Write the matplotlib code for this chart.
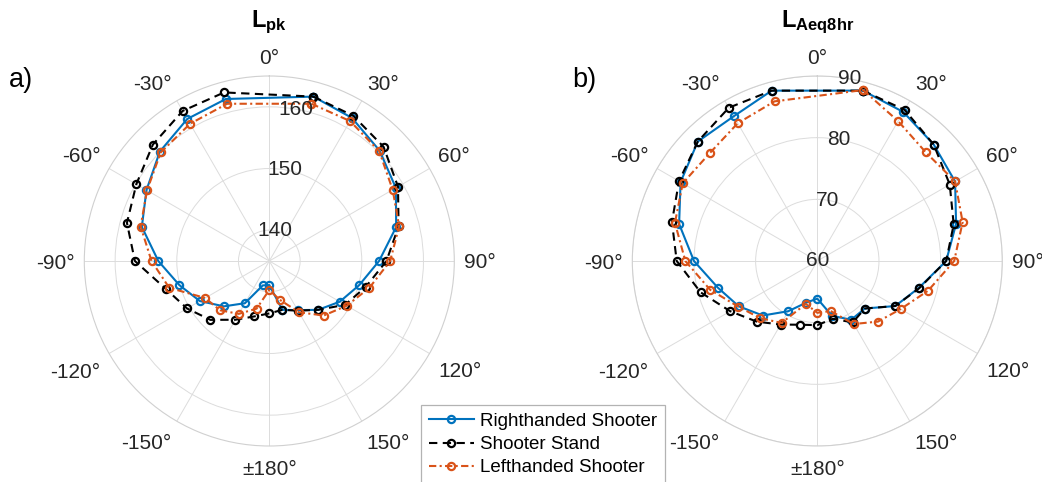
import numpy as np
import matplotlib
matplotlib.use('Agg')
import matplotlib.pyplot as plt
from matplotlib.transforms import offset_copy

plt.rcParams['font.family'] = ['Liberation Sans', 'DejaVu Sans']
plt.rcParams['mathtext.fontset'] = 'custom'
plt.rcParams['mathtext.rm'] = 'Liberation Sans'
plt.rcParams['mathtext.bf'] = 'Liberation Sans:bold'

# measurement angles (deg), 0 deg (shooter direction) not measured
angles = [15, 30, 45, 60, 75, 90, 105, 120, 135, 150, 165, 180,
          -165, -150, -135, -120, -105, -90, -75, -60, -45, -30, -15]

# a) Lpk
lpk_right = [162.6, 161.8, 160.3, 158.7, 156.3, 152.8, 150.1, 148.2, 146.2, 144.2, 143.2, 138.9,
             139.1, 142.9, 145.4, 148.0, 150.1, 153.0, 156.4, 158.0, 160.1, 161.6, 162.2]
lpk_stand = [162.6, 162.2, 161.2, 159.1, 156.7, 154.0, 151.2, 149.2, 146.2, 144.3, 143.2, 143.5,
             144.3, 146.0, 148.5, 150.4, 152.4, 156.8, 158.9, 159.9, 161.7, 163.1, 163.3]
lpk_left = [161.4, 161.2, 160.2, 158.1, 156.8, 154.6, 151.8, 149.5, 147.5, 144.6, 141.5, 139.7,
            143.0, 144.9, 146.3, 147.0, 151.8, 154.1, 156.6, 157.9, 159.9, 160.7, 161.4]

# b) LAeq8hr
laeq_right = [88.6, 87.9, 86.7, 85.8, 83.3, 80.9, 77.0, 74.6, 70.9, 71.0, 69.2, 66.1,
              67.0, 69.4, 72.5, 74.7, 76.7, 80.0, 83.2, 85.6, 87.4, 87.1, 88.6]
laeq_stand = [88.6, 88.3, 86.7, 84.8, 82.9, 80.9, 77.1, 74.6, 70.9, 71.5, 69.7, 70.4,
              70.7, 71.9, 73.9, 76.3, 79.6, 82.8, 84.4, 85.9, 87.4, 88.7, 88.6]
laeq_left = [88.7, 86.2, 84.9, 85.8, 84.4, 82.2, 78.6, 75.6, 73.9, 71.8, 68.4, 68.4,
             67.2, 71.6, 73.1, 74.8, 78.0, 81.4, 83.9, 85.2, 84.7, 85.8, 86.8]

labels = ['Righthanded Shooter', 'Shooter Stand', 'Lefthanded Shooter']
theta_ticks = [0, 30, 60, 90, 120, 150, 180, 210, 240, 270, 300, 330]
theta_labels = ['0°', '30°', '60°', '90°', '120°', '150°', '±180°',
                '-150°', '-120°', '-90°', '-60°', '-30°']

blue = '#0072BD'
red = '#D95319'
txt = '#262626'
gridc = '#DCDCDC'
R_PX = 185  # polar radius in pixels


def closed(v):
    return list(v) + [v[0]]


th = np.deg2rad(closed(angles))

fig = plt.figure(figsize=(10.42, 4.82), dpi=100)


def polar_panel(rect, series, rlim, rticks, title, tag, tag_x):
    ax = fig.add_axes(rect, projection='polar')
    ax.set_theta_zero_location('N')
    ax.set_theta_direction(-1)
    styles = [dict(color=blue, linestyle='-'),
              dict(color='k', linestyle=(0, (4, 2.6))),
              dict(color=red, linestyle=(0, (3.5, 1.6, 1, 1.6)))]
    lines = []
    for vals, st, lab in zip(series, styles, labels):
        ln, = ax.plot(th, closed(vals), marker='o', markersize=5.2, markerfacecolor='none',
                      markeredgewidth=1.6, linewidth=1.5, label=lab, **st)
        lines.append(ln)
    ax.set_ylim(*rlim)
    ax.set_yticks(rticks)
    ax.set_yticklabels([])
    for r in rticks:
        ang = 0 if r == rlim[0] else np.deg2rad(10)
        ax.text(ang, r, str(r), ha='center', va='center', fontsize=15, color=txt, clip_on=False)
    ax.set_thetagrids(theta_ticks, [''] * len(theta_ticks))
    ax.grid(True, color=gridc, linewidth=0.7)
    ax.spines['polar'].set_color('#D0D0D0')
    ax.spines['polar'].set_linewidth(0.8)

    # theta labels anchored just outside the circle, aligned by quadrant
    r_lab = rlim[0] + 195 / R_PX * (rlim[1] - rlim[0])
    for a, lab in zip(theta_ticks, theta_labels):
        s, c = np.sin(np.deg2rad(a)), np.cos(np.deg2rad(a))
        ha = 'left' if s > 1e-6 else ('right' if s < -1e-6 else 'center')
        if c > 1e-6:
            va, dy = 'baseline', 2
        elif c < -1e-6:
            va, dy = 'top', -4
        else:
            va, dy = 'center', -2
        ax.text(np.deg2rad(a), r_lab, lab, ha=ha, va=va, fontsize=15, color=txt,
                clip_on=False, transform=offset_copy(ax.transData, fig, y=dy, units='dots'))

    fig.text(rect[0] + rect[2] / 2, 1 - 27 / 482, title, ha='center', va='baseline',
             fontsize=17, color='k')
    fig.text(tag_x, 1 - 80 / 482, tag, ha='left', va='center', fontsize=19.5, color='k')
    return lines


w = 2 * R_PX / 1042
h = 2 * R_PX / 482
lines = polar_panel([(269.3 - R_PX) / 1042, 36 / 482, w, h],
                    [lpk_right, lpk_stand, lpk_left], (135, 165), [140, 150, 160],
                    r'$\mathbf{L_{pk}}$', 'a)', 9 / 1042)
polar_panel([(817.3 - R_PX) / 1042, 36 / 482, w, h],
            [laeq_right, laeq_stand, laeq_left], (60, 90), [60, 70, 80, 90],
            r'$\mathbf{L_{Aeq8hr}}$', 'b)', 572 / 1042)

leg = fig.legend(lines, labels, loc='upper left', bbox_to_anchor=(421 / 1042, 1 - 405 / 482),
                 fontsize=13.5, frameon=True, fancybox=False, edgecolor='#A0A0A0',
                 borderpad=0.42, handlelength=2.4, handletextpad=0.3, labelspacing=0.32,
                 borderaxespad=0)
leg.get_frame().set_linewidth(0.9)
for t in leg.get_texts():
    t.set_color('k')

fig.savefig('out.png', dpi=100)
